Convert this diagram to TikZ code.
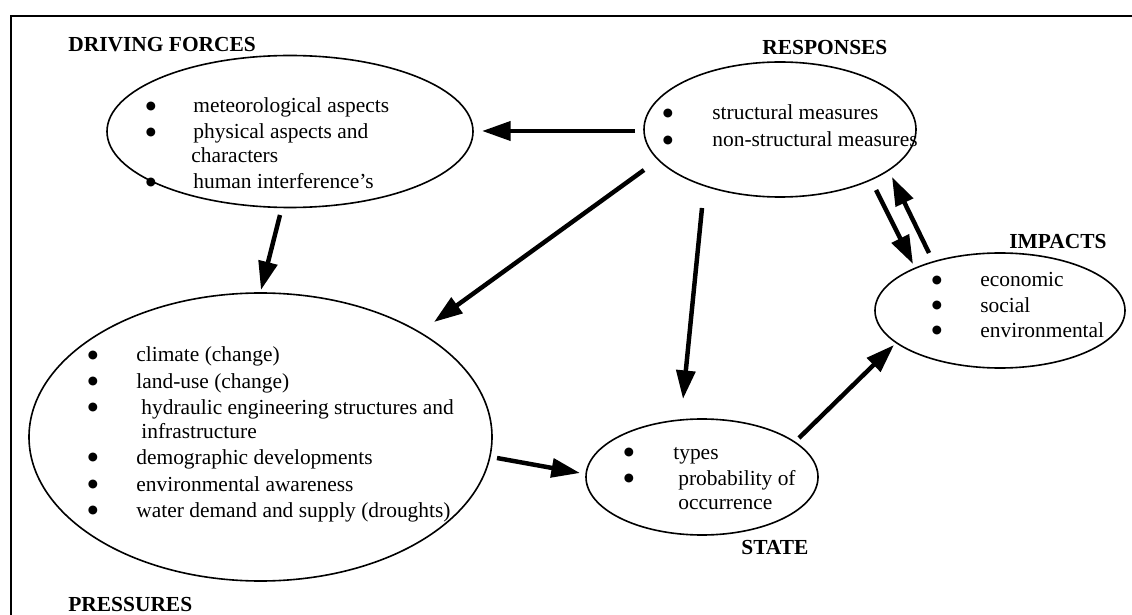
\documentclass[tikz,border=0pt]{standalone}
\usepackage{fontspec}
\setmainfont{Liberation Serif}
\newfontfamily\markfont{DejaVu Sans}
\usetikzlibrary{shapes.geometric,arrows.meta}

\begin{document}
\begin{tikzpicture}[x=0.56pt, y=-0.56pt,
  oval/.style={draw, ellipse, line width=0.9pt, inner sep=0pt},
  txt/.style={anchor=base west, inner sep=0pt, font=\fontsize{12}{14}\selectfont},
  dot/.style={anchor=base, inner sep=0pt, yshift=1.8pt, font=\markfont\fontsize{6.5}{7}\selectfont},
  head/.style={anchor=west, inner sep=0pt, font=\fontsize{12}{14}\selectfont\bfseries},
  flow/.style={line width=2.5pt, -{Triangle[length=16pt, width=10.5pt]}}]

\useasboundingbox (0,0) rectangle (1132,615);

% open frame: top and left edges only
\coordinate (fTL) at (11,16);
\coordinate (fTR) at (1132,16);
\coordinate (fBL) at (11,615);
\draw[line width=1.1pt] (fBL) -- (fTL) -- (fTR);

% ---- ovals ----
\node[oval, minimum width=204.96pt, minimum height=85.12pt] (df)   at (290,131.5) {};
\node[oval, minimum width=152.32pt, minimum height=75.6pt]  (resp) at (780,129.5) {};
\node[oval, minimum width=259.28pt, minimum height=161.28pt] (pres) at (260.5,437) {};
\node[oval, minimum width=129.92pt, minimum height=64.96pt] (state) at (702,477) {};
\node[oval, minimum width=140pt, minimum height=64.4pt]    (imp)  at (1000,310.5) {};

% ---- headings ----
\node[head] (hdf)    at (68,45)   {DRIVING FORCES};
\node[head] (hresp)  at (762,48)  {RESPONSES};
\node[head] (himp)   at (1009,242) {IMPACTS};
\node[head] (hstate) at (741,548) {STATE};
\node[head] (hpres)  at (68,605)  {PRESSURES};

% ---- driving forces items ----
\node[dot] (dfb1) at (151,113) {●};
\node[txt] (dft1) at (193,113) {meteorological aspects};
\node[dot] (dfb2) at (151,139) {●};
\node[txt] (dft2) at (193,139) {physical aspects and};
\node[txt] (dft3) at (191,163) {characters};
\node[dot] (dfb4) at (151,189) {●};
\node[txt] (dft4) at (193,189) {human interference’s};

% ---- responses items ----
\node[dot] (rb1) at (668,120) {●};
\node[txt] (rt1) at (712,120) {structural measures};
\node[dot] (rb2) at (668,147) {●};
\node[txt] (rt2) at (712,147) {non-structural measures};

% ---- impacts items ----
\node[dot] (ib1) at (937,287) {●};
\node[txt] (it1) at (980,287) {economic};
\node[dot] (ib2) at (937,312) {●};
\node[txt] (it2) at (980,312) {social};
\node[dot] (ib3) at (937,337) {●};
\node[txt] (it3) at (980,337) {environmental};

% ---- pressures items ----
\node[dot] (pb1) at (93,362) {●};
\node[txt] (pt1) at (136,362) {climate (change)};
\node[dot] (pb2) at (93,388) {●};
\node[txt] (pt2) at (136,388) {land-use (change)};
\node[dot] (pb3) at (93,414) {●};
\node[txt] (pt3) at (141,414) {hydraulic engineering structures and};
\node[txt] (pt4) at (141,438) {infrastructure};
\node[dot] (pb5) at (93,464) {●};
\node[txt] (pt5) at (136,464) {demographic developments};
\node[dot] (pb6) at (93,491) {●};
\node[txt] (pt6) at (136,491) {environmental awareness};
\node[dot] (pb7) at (93,517) {●};
\node[txt] (pt7) at (136,517) {water demand and supply (droughts)};

% ---- state items ----
\node[dot] (sb1) at (629,459) {●};
\node[txt] (st1) at (673,459) {types};
\node[dot] (sb2) at (629,485) {●};
\node[txt] (st2) at (678,485) {probability of};
\node[txt] (st3) at (678,509) {occurrence};

% ---- connector end points (arrows stop short of the ovals) ----
\coordinate (aRD1) at (635,131);  \coordinate (aRD2) at (482,131);
\coordinate (aRP1) at (644,170);  \coordinate (aRP2) at (434,322);
\coordinate (aRS1) at (702,208);  \coordinate (aRS2) at (683,399);
\coordinate (aDP1) at (280,215);  \coordinate (aDP2) at (261,290);
\coordinate (aPS1) at (497,458);  \coordinate (aPS2) at (580,473);
\coordinate (aSI1) at (799,438);  \coordinate (aSI2) at (894,345);
\coordinate (aRI1) at (876,190);  \coordinate (aRI2) at (913,264);
\coordinate (aIR1) at (929,253);  \coordinate (aIR2) at (892,177);

% ---- arrows ----
\draw[flow] (aRD1) -- (aRD2);
\draw[flow] (aRP1) -- (aRP2);
\draw[flow] (aRS1) -- (aRS2);
\draw[flow] (aDP1) -- (aDP2);
\draw[flow] (aPS1) -- (aPS2);
\draw[flow] (aSI1) -- (aSI2);
\draw[flow] (aRI1) -- (aRI2);
\draw[flow] (aIR1) -- (aIR2);

\end{tikzpicture}
\end{document}
